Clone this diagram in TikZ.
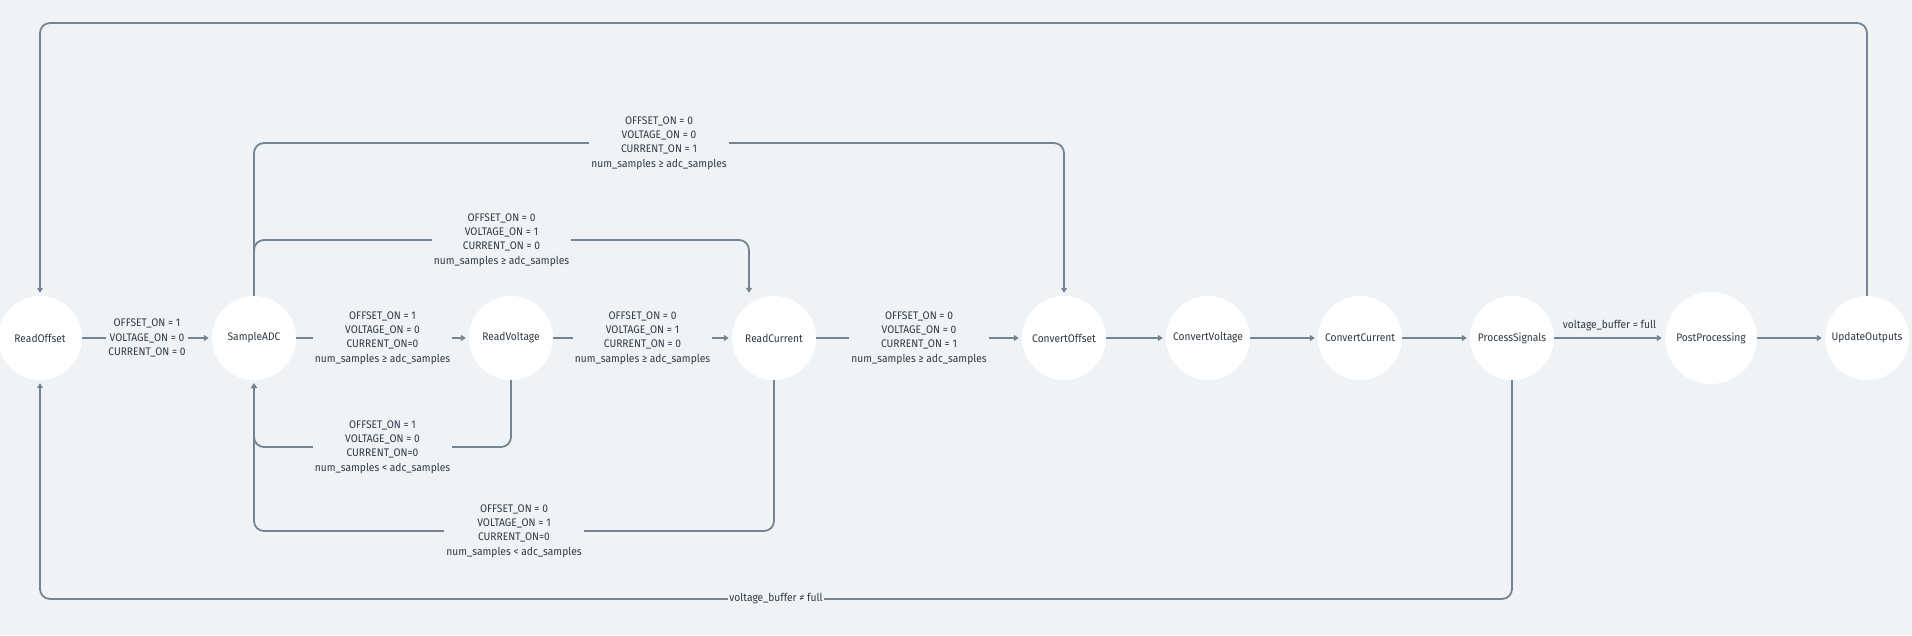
\documentclass[tikz,border=0pt]{standalone}
\usepackage{fontspec}
\setmainfont{Fira Sans}[FakeStretch=0.93]
\usetikzlibrary{arrows.meta,calc}
\definecolor{bgc}{HTML}{EFF3F6}
\definecolor{edgec}{HTML}{748493}
\definecolor{txtc}{HTML}{2F3A45}
\begin{document}
\begin{tikzpicture}[x=1pt,y=-1pt,
  state/.style={circle,fill=white,minimum size=84pt,inner sep=0pt,text=txtc,font=\fontsize{11}{13}\selectfont},
  edge/.style={draw=edgec,line width=1.8pt,rounded corners=10pt,shorten >=3pt,-{Triangle[length=5pt,width=6pt]}},
  lbl/.style={fill=bgc,text=txtc,align=center,inner sep=2pt,font=\fontsize{11}{14.3}\selectfont}]
\fill[bgc] (0,0) rectangle (1912,635);
\useasboundingbox (0,0) rectangle (1912,635);
% states
\node[state] (ro) at (40,338) {ReadOffset};
\node[state] (sa) at (254,338) {SampleADC};
\node[state] (rv) at (511,338) {ReadVoltage};
\node[state] (rc) at (774,338) {ReadCurrent};
\node[state] (co) at (1064,338) {ConvertOffset};
\node[state] (cv) at (1208,338) {ConvertVoltage};
\node[state] (cc) at (1360,338) {ConvertCurrent};
\node[state] (ps) at (1512,338) {ProcessSignals};
\node[state,minimum size=92pt] (pp) at (1711,338) {PostProcessing};
\node[state] (uo) at (1867,338) {UpdateOutputs};
% corner coordinates
\coordinate (t1) at (1867,23);
\coordinate (t2) at (40,23);
\coordinate (a1) at (254,143);
\coordinate (a2) at (1064,143);
\coordinate (b1) at (254,240);
\coordinate (b2) at (749,240);
\coordinate (rcin) at ($(rc.north)+(-25,0)$);
\coordinate (c1) at (511,447);
\coordinate (c2) at (254,447);
\coordinate (d1) at (774,531);
\coordinate (d2) at (254,531);
\coordinate (e1) at (1512,599);
\coordinate (e2) at (40,599);
% long connectors
\draw[edge] (uo.north) -- (t1) -- (t2) -- (ro.north);
\draw[edge] (sa.north) -- (a1) -- (a2) -- (co.north);
\draw[edge] (sa.north) -- (b1) -- (b2) -- (rcin);
\draw[edge] (rv.south) -- (c1) -- (c2) -- (sa.south);
\draw[edge] (rc.south) -- (d1) -- (d2) -- (sa.south);
\draw[edge] (ps.south) -- (e1) -- (e2) -- (ro.south);
% straight connectors
\draw[edge] (ro) -- (sa);
\draw[edge] (sa) -- (rv);
\draw[edge] (rv) -- (rc);
\draw[edge] (rc) -- (co);
\draw[edge] (co) -- (cv);
\draw[edge] (cv) -- (cc);
\draw[edge] (cc) -- (ps);
\draw[edge] (ps) -- (pp);
\draw[edge] (pp) -- (uo);
% labels
\node[lbl] (l1) at ($(ro.east)!0.5!(sa.west)$) {OFFSET\_ON = 1\\VOLTAGE\_ON = 0\\CURRENT\_ON = 0};
\node[lbl] (l2) at ($(sa.east)!0.5!(rv.west)$) {OFFSET\_ON = 1\\VOLTAGE\_ON = 0\\CURRENT\_ON=0\\num\_samples ≥ adc\_samples};
\node[lbl] (l3) at ($(rv.east)!0.5!(rc.west)$) {OFFSET\_ON = 0\\VOLTAGE\_ON = 1\\CURRENT\_ON = 0\\num\_samples ≥ adc\_samples};
\node[lbl] (l4) at ($(rc.east)!0.5!(co.west)$) {OFFSET\_ON = 0\\VOLTAGE\_ON = 0\\CURRENT\_ON = 1\\num\_samples ≥ adc\_samples};
\node[lbl] (l5) at ($(a1)!0.5!(a2)$) {OFFSET\_ON = 0\\VOLTAGE\_ON = 0\\CURRENT\_ON = 1\\num\_samples ≥ adc\_samples};
\node[lbl] (l6) at ($(b1)!0.5!(b2)$) {OFFSET\_ON = 0\\VOLTAGE\_ON = 1\\CURRENT\_ON = 0\\num\_samples ≥ adc\_samples};
\node[lbl] (l7) at ($(c1)!0.5!(c2)$) {OFFSET\_ON = 1\\VOLTAGE\_ON = 0\\CURRENT\_ON=0\\num\_samples < adc\_samples};
\node[lbl] (l8) at ($(d1)!0.5!(d2)$) {OFFSET\_ON = 0\\VOLTAGE\_ON = 1\\CURRENT\_ON=0\\num\_samples < adc\_samples};
\node[lbl,inner sep=1pt] (l9) at ($(e1)!0.5!(e2)$) {voltage\_buffer ≠ full};
\node[lbl,fill=none] (l10) at ($(ps.east)!0.5!(pp.west)+(0,-12)$) {voltage\_buffer = full};
\end{tikzpicture}
\end{document}
